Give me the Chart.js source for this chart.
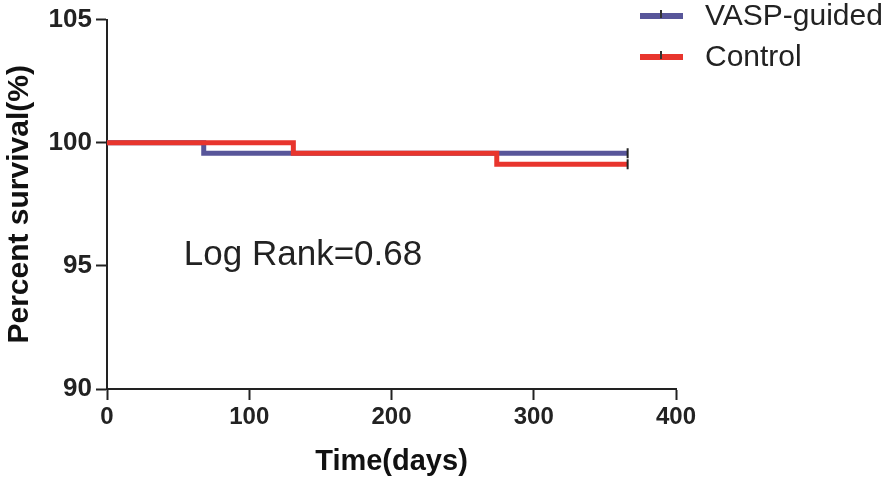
<!DOCTYPE html>
<html>
<head>
<meta charset="utf-8">
<script src="https://cdn.jsdelivr.net/npm/chart.js@4.4.1/dist/chart.umd.min.js"></script>
<style>
    html, body { margin: 0; padding: 0; background: #ffffff; }
    #wrap { width: 894px; height: 483px; }
</style>
</head>
<body>
<div id="wrap"><canvas id="grafico" width="894" height="483"></canvas></div>
<script>
// Datos (Kaplan-Meier)
const vaspDias = [0, 68, 366];
const vaspSupervivencia = [100, 99.57, 99.57];
const controlDias = [0, 131, 274, 366];
const controlSupervivencia = [100, 99.57, 99.13, 99.13];

const etiquetas = ["VASP-guided", "Control"];
const colores = ["#58569a", "#e8352d"];
const textoLogRank = "Log Rank=0.68";

const toPoints = (xs, ys) => xs.map((x, i) => ({ x: x, y: ys[i] }));

// marca de censura solo en el ultimo punto
const radioCensura = (ctx) => ctx.dataIndex === ctx.dataset.data.length - 1 ? 5 : 0;

const extras = {
    id: "extras",
    afterDatasetsDraw(chart) {
        const c = chart.ctx;
        const xs = chart.scales.x, ys = chart.scales.y;
        c.save();
        // texto del log rank
        c.fillStyle = "#222";
        c.font = "35px 'Liberation Sans', Arial, sans-serif";
        c.textBaseline = "alphabetic";
        c.textAlign = "left";
        c.fillText(textoLogRank, xs.getPixelForValue(54), ys.getPixelForValue(95.05));

        // leyenda
        const filas = [16, 57];
        etiquetas.forEach((lab, i) => {
            const y = filas[i];
            c.strokeStyle = colores[i];
            c.lineWidth = 6;
            c.beginPath();
            c.moveTo(640, y);
            c.lineTo(683, y);
            c.stroke();
            c.strokeStyle = "#333";
            c.lineWidth = 2;
            c.beginPath();
            c.moveTo(661, y - 6);
            c.lineTo(661, y + 2);
            c.stroke();
            c.fillStyle = "#222";
            c.font = "30px 'Liberation Sans', Arial, sans-serif";
            c.textBaseline = "middle";
            c.fillText(lab, 705, y + 1);
        });
        c.restore();
    }
};

new Chart(document.getElementById("grafico"), {
    type: "line",
    data: {
        datasets: [
            {
                label: etiquetas[0],
                data: toPoints(vaspDias, vaspSupervivencia),
                borderColor: colores[0],
                borderWidth: 5,
                stepped: true,
                pointStyle: "line",
                rotation: 90,
                pointRadius: radioCensura,
                pointBorderColor: "#222",
                pointBorderWidth: 2,
                order: 1
            },
            {
                label: etiquetas[1],
                data: toPoints(controlDias, controlSupervivencia),
                borderColor: colores[1],
                borderWidth: 5,
                stepped: true,
                pointStyle: "line",
                rotation: 90,
                pointRadius: radioCensura,
                pointBorderColor: "#222",
                pointBorderWidth: 2,
                order: 0
            }
        ]
    },
    options: {
        responsive: false,
        animation: false,
        layout: { padding: { left: 0, right: 218, top: 15, bottom: 0 } },
        plugins: {
            legend: { display: false },
            tooltip: { enabled: false }
        },
        scales: {
            x: {
                type: "linear",
                min: 0,
                max: 400,
                afterFit: (s) => { s.height = 94; },
                ticks: {
                    stepSize: 100,
                    color: "#222",
                    padding: 3,
                    font: { family: "'Liberation Sans', Arial, sans-serif", size: 24, weight: "bold" }
                },
                grid: {
                    drawOnChartArea: false,
                    tickLength: 11,
                    tickColor: "#222",
                    tickWidth: 2
                },
                border: { color: "#222", width: 2 },
                title: {
                    display: true,
                    text: "Time(days)",
                    color: "#111",
                    padding: { top: 0, bottom: 4 },
                    font: { family: "'Liberation Sans', Arial, sans-serif", size: 29, weight: "bold" }
                }
            },
            y: {
                min: 90,
                max: 105,
                afterFit: (s) => { s.width = 107; },
                ticks: {
                    stepSize: 5,
                    color: "#222",
                    padding: 4,
                    font: { family: "'Liberation Sans', Arial, sans-serif", size: 26, weight: "bold" }
                },
                grid: {
                    drawOnChartArea: false,
                    tickLength: 11,
                    tickColor: "#222",
                    tickWidth: 2
                },
                border: { color: "#222", width: 2 },
                title: {
                    display: true,
                    text: "Percent survival(%)",
                    color: "#111",
                    padding: { top: 2, bottom: 0 },
                    font: { family: "'Liberation Sans', Arial, sans-serif", size: 30, weight: "bold" }
                }
            }
        }
    },
    plugins: [extras]
});
</script>
</body>
</html>
